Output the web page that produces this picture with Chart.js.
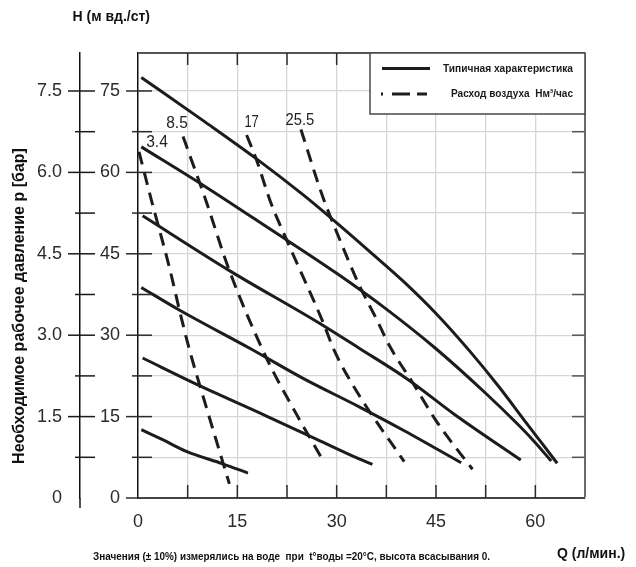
<!DOCTYPE html>
<html><head><meta charset="utf-8">
<script src="https://cdn.jsdelivr.net/npm/chart.js@4.4.1/dist/chart.umd.min.js"></script>
<style>html,body{margin:0;padding:0;background:#fff}#wrap{width:636px;height:567px;position:relative}</style>
</head><body><div id="wrap"><canvas id="c" width="636" height="567"></canvas></div>
<script>
// ---- tick labels ----
const qTicks = [0, 15, 30, 45, 60];
const hTicks = [0, 15, 30, 45, 60, 75];
const pTickLabels = ['0', '1.5', '3.0', '4.5', '6.0', '7.5'];
const gridQ = [0, 7.5, 15, 22.5, 30, 37.5, 45, 52.5, 60, 67.5];
const gridH = [0, 7.5, 15, 22.5, 30, 37.5, 45, 52.5, 60, 67.5, 75, 82];

// ---- typical characteristics (Q l/min, H m) ----
const typical1 = [[0.5,77.5],[10,69.4],[18,62.4],[25,55.8],[30,50.7],[35,45.4],[40,40.0],[45,34.0],[50,27.2],[54.5,20.5],[58.6,13.9],[61.3,9.6],[63.3,6.4]];
const typical2 = [[0.5,64.7],[10,57.5],[20,49.5],[30,41.4],[37.5,34.8],[45,27.5],[52.5,19.3],[57.5,13.4],[60,10.2],[62.4,6.8]];
const typical3 = [[0.7,52.0],[13.8,41.9],[27.4,32.2],[33.4,27.6],[40.7,21.9],[47.8,15.4],[57.8,7.0]];
const typical4 = [[0.5,38.8],[6.3,34.6],[17,27.5],[25,22.0],[33.4,16.8],[40.2,12.4],[48.8,6.5]];
const typical5 = [[0.7,25.8],[9.3,20.7],[19.4,15.1],[27,10.8],[33.4,7.2],[35.4,6.2]];
const typical6 = [[0.5,12.6],[3.8,10.7],[7.3,8.6],[12.8,6.3],[16.6,4.6]];

// ---- air consumption (Nm3/h) ----
const airLabels = ['3.4', '8.5', '17', '25.5'];
const air34 = [[0.15,63.8],[2.0,55.0],[4.8,42.2],[6.3,34.4],[7.8,27.2],[10.3,16.8],[13.8,2.6]];
const air85 = [[6.8,66.6],[10.2,55.0],[13.8,41.9],[19.4,25.8],[23.9,15.5],[27.9,7.0]];
const air17 = [[16.4,66.9],[17.9,62.3],[20.0,54.6],[22.4,47.7],[27.9,32.5],[29.7,27.0],[33.2,19.3],[40.2,6.7]];
const air255 = [[24.6,67.9],[27.9,55.5],[30,49],[33.3,39.5],[36,33],[38,28],[41.5,21.2],[45.2,13.9],[50.5,5.3]];

const typicalSeries = [typical1, typical2, typical3, typical4, typical5, typical6];
const airSeries = [air34, air85, air17, air255];

const BOLD = "'Liberation Sans', Arial, sans-serif";
const PLAIN = "'Liberation Sans', Arial, sans-serif";
const INK = '#1c1c1c';

const mk = pts => pts.map(([x, y]) => ({x, y}));
const datasets = [];
typicalSeries.forEach((s, i) => datasets.push({
  label: 'typ' + i, data: mk(s), borderColor: INK, borderWidth: 3, pointRadius: 0,
  cubicInterpolationMode: 'monotone', fill: false, borderCapStyle: 'butt'
}));
airSeries.forEach((s, i) => datasets.push({
  label: airLabels[i], data: mk(s), borderColor: INK, borderWidth: 3, pointRadius: 0,
  borderDash: [13, 8], cubicInterpolationMode: 'monotone', fill: false, isAir: true
}));

const airLabelOffsets = [[18, -9], [-6, -13], [5, -12], [-1, -9]];

const decor = {
  id: 'decor',
  afterDraw(chart) {
    const {ctx, chartArea: a, scales: {x, y, p}} = chart;
    ctx.save();
    const line = (x1, y1, x2, y2) => { ctx.beginPath(); ctx.moveTo(x1, y1); ctx.lineTo(x2, y2); ctx.stroke(); };
    ctx.lineWidth = 1.5;
    ctx.strokeStyle = '#2a2a2a';
    gridQ.forEach(v => {
      if (v === 0 || v === 67.5) return;
      const px = x.getPixelForValue(v);
      line(px, a.bottom, px, a.bottom - 13);
      line(px, a.top, px, a.top + 12);
    });
    gridH.forEach(v => {
      if (v > 75) return;
      const py = y.getPixelForValue(v);
      const major = v % 15 === 0;
      ctx.strokeStyle = '#2a2a2a';
      line(a.left - (major ? 12 : 6), py, a.left + (v === 0 ? 0 : 14), py);
      if (v > 0) {
        ctx.strokeStyle = '#555';
        line(a.right - 13, py, a.right, py);
        ctx.strokeStyle = '#1a1a1a';
        line(p.right - (major ? 12 : 5), py, p.right + 15, py);
      }
    });
    ctx.strokeStyle = '#1a1a1a';
    line(p.right, a.bottom, p.right, a.bottom + 10);

    // air labels
    ctx.fillStyle = '#222';
    ctx.font = '16px ' + PLAIN;
    ctx.textAlign = 'center';
    ctx.textBaseline = 'middle';
    chart.data.datasets.forEach((ds, i) => {
      if (!ds.isAir) return;
      const k = airLabels.indexOf(ds.label);
      const pt = chart.getDatasetMeta(i).data[0];
      const t = ds.label;
      ctx.fillText(t, pt.x + airLabelOffsets[k][0], pt.y + airLabelOffsets[k][1], t.length * 7.2);
    });

    // legend box
    const lx = a.right - 215, ly = a.top, lw = 215, lh = 61;
    ctx.fillStyle = '#fff';
    ctx.fillRect(lx, ly, lw, lh);
    ctx.strokeStyle = '#4a4a4a';
    ctx.lineWidth = 1.5;
    ctx.strokeRect(lx, ly, lw, lh);
    ctx.strokeStyle = INK;
    ctx.lineWidth = 3;
    line(lx + 12, ly + 15.5, lx + 60, ly + 15.5);
    line(lx + 11, ly + 41, lx + 13, ly + 41);
    line(lx + 22, ly + 41, lx + 40, ly + 41);
    line(lx + 47, ly + 41, lx + 57, ly + 41);
    ctx.fillStyle = '#1a1a1a';
    ctx.font = 'bold 11px ' + BOLD;
    ctx.textAlign = 'right';
    ctx.textBaseline = 'middle';
    ctx.fillText('Типичная характеристика', lx + 203, ly + 15.5, 130);
    ctx.fillText('Расход воздуха  Нм³/час', lx + 203, ly + 40.5, 122);

    // titles
    ctx.fillStyle = '#111';
    ctx.textAlign = 'left';
    ctx.textBaseline = 'alphabetic';
    ctx.font = 'bold 14px ' + BOLD;
    ctx.fillText('H (м вд./ст)', 72.5, 21);
    ctx.fillText('Q (л/мин.)', 557, 558);
    ctx.font = 'bold 10.5px ' + BOLD;
    ctx.fillText('Значения (± 10%) измерялись на воде  при  t°воды =20°C, высота всасывания 0.', 93, 559.5, 397);
    ctx.save();
    ctx.translate(24, 306);
    ctx.rotate(-Math.PI / 2);
    ctx.textAlign = 'center';
    ctx.font = 'bold 16px ' + BOLD;
    ctx.fillText('Необходимое рабочее давление р [бар]', 0, 0, 326);
    ctx.restore();
    ctx.restore();
  }
};

const tickFont = {family: PLAIN, size: 18};
new Chart(document.getElementById('c'), {
  type: 'line',
  data: {datasets},
  options: {
    responsive: false, animation: false, devicePixelRatio: 1,
    layout: {padding: {top: 53, right: 51, left: 0, bottom: 0}},
    plugins: {legend: {display: false}, tooltip: {enabled: false}},
    scales: {
      x: {
        type: 'linear', position: 'bottom', min: 0, max: 67.5,
        afterBuildTicks: s => { s.ticks = gridQ.map(v => ({value: v})); },
        ticks: {callback: v => qTicks.includes(v) ? String(v) : '', font: tickFont, color: '#2b2b2b', padding: 13, maxRotation: 0, autoSkip: false},
        grid: {drawTicks: false,
          color: c => c.tick && c.tick.value === 67.5 ? '#6a6a6a' : (c.tick && c.tick.value === 0 ? 'rgba(0,0,0,0)' : '#d6d6d6'),
          lineWidth: c => c.tick && c.tick.value === 67.5 ? 2 : 1.3},
        border: {display: true, color: '#444', width: 2},
        afterFit: s => { s.height = 69; }
      },
      y: {
        type: 'linear', position: 'left', min: 0, max: 82, weight: 0,
        afterBuildTicks: s => { s.ticks = gridH.map(v => ({value: v})); },
        ticks: {callback: v => hTicks.includes(v) ? String(v) : '', font: tickFont, color: '#2b2b2b', padding: 18, autoSkip: false},
        grid: {drawTicks: false,
          color: c => c.tick && c.tick.value === 82 ? '#555' : (c.tick && c.tick.value === 0 ? 'rgba(0,0,0,0)' : '#d6d6d6'),
          lineWidth: c => c.tick && c.tick.value === 82 ? 2 : 1.3},
        border: {display: true, color: '#111', width: 1.5},
        afterFit: s => { s.width = 58; }
      },
      p: {
        type: 'linear', position: 'left', min: 0, max: 82, weight: 1,
        afterBuildTicks: s => { s.ticks = hTicks.map(v => ({value: v})); },
        ticks: {callback: (v, i) => pTickLabels[i], font: tickFont, color: '#2b2b2b', padding: 18, autoSkip: false},
        grid: {drawTicks: false, drawOnChartArea: false},
        border: {display: true, color: '#111', width: 1.5},
        afterFit: s => { s.width = 80; }
      }
    }
  },
  plugins: [decor]
});
</script>
</body></html>
